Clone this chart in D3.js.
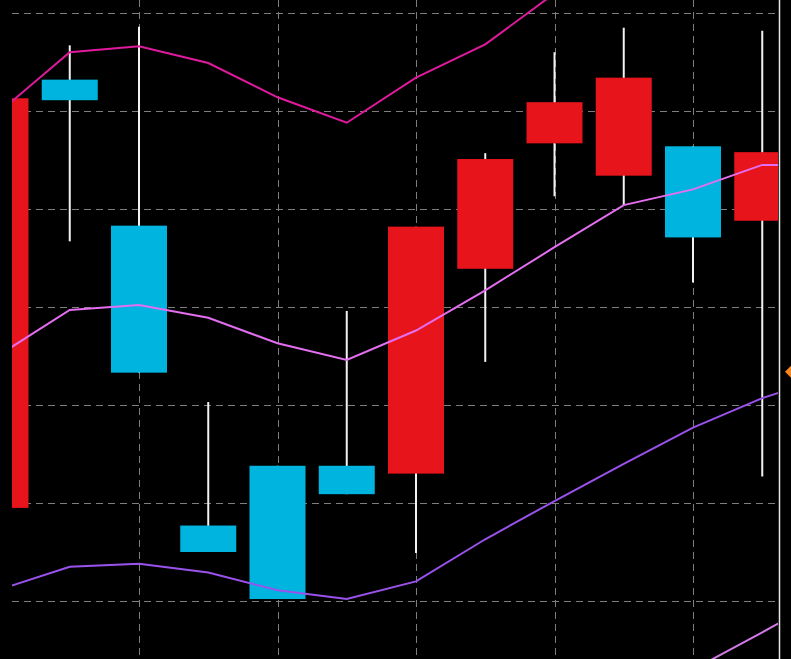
<!DOCTYPE html>
<html>
<head>
<meta charset="utf-8">
<script src="https://cdn.jsdelivr.net/npm/d3@7"></script>
<style>
  html, body { margin: 0; padding: 0; background: #000; overflow: hidden; }
</style>
</head>
<body>
<div id="content"></div>
<script>
// Candles (index 0 is clipped on the left edge)
const opens  = [19.5, 63.2, 48.3, 17.7, 23.8, 23.8, 23.0, 43.9, 56.7, 53.4, 56.4, 48.8];
const highs  = [61.3, 66.7, 68.6, 30.3, 23.8, 39.6, 48.2, 55.7, 66.0, 68.5, 56.4, 68.2];
const lows   = [19.5, 46.7, 33.3, 15.0, 10.2, 20.9, 14.9, 34.4, 51.3, 50.4, 42.5, 22.7];
const closes = [61.3, 61.1, 33.3, 15.0, 10.2, 20.9, 48.2, 55.1, 60.9, 63.4, 47.1, 55.8];

// Bands (one more point than candles, it falls past the right edge)
const upperBand  = [60.0, 66.0, 66.6, 64.9, 61.4, 58.8, 63.4, 66.8, 72.0, 75.4, 77.5, 79.0, 80.0];
const middleBand = [35.2, 39.7, 40.2, 38.9, 36.3, 34.6, 37.6, 41.7, 46.1, 50.4, 52.0, 54.5, 54.5];
const lowerBand  = [11.2, 13.5, 13.8, 12.9, 11.1, 10.2, 12.0, 16.3, 20.2, 24.0, 27.7, 30.7, 33.0];
const extraLine  = [null, null, null, null, null, null, null, null, null, null, 3.0, 6.8, 10.7];

const priceTicks = [10, 20, 30, 40, 50, 60, 70];
const timeTicks = [2, 4, 6, 8, 10];
const markerPrice = 33.4;

document.addEventListener('DOMContentLoaded', () => {
    drawSVG();
});

const drawSVG = () => {
    let width = 791;
    let height = 659;
    let left = 12;
    let right = 778;

    const x = d3.scaleLinear().domain([0, 11]).range([0.5, 762.25]);
    const y = d3.scaleLinear().domain([10, 70]).range([601, 13]);
    let candleWidth = 56;

    const svg = d3.select('#content')
                  .append('svg')
                  .attr('width', width)
                  .attr('height', height)
                  .style('display', 'block')
                  .style('background-color', '#000');

    svg.append('defs')
       .append('clipPath')
       .attr('id', 'plot')
       .append('rect')
       .attr('x', left)
       .attr('y', 0)
       .attr('width', right - left)
       .attr('height', height);

    const plot = svg.append('g').attr('clip-path', 'url(#plot)');

    // Grid
    plot.append('g')
        .selectAll('line')
        .data(priceTicks)
        .enter()
        .append('line')
        .attr('x1', left)
        .attr('x2', right)
        .attr('y1', d => Math.round(y(d)) + 0.5)
        .attr('y2', d => Math.round(y(d)) + 0.5)
        .attr('stroke', '#7e7e7e')
        .attr('stroke-width', 1)
        .attr('stroke-dasharray', '7,5');

    plot.append('g')
        .selectAll('line')
        .data(timeTicks)
        .enter()
        .append('line')
        .attr('x1', d => Math.round(x(d)) + 0.5)
        .attr('x2', d => Math.round(x(d)) + 0.5)
        .attr('y1', 0)
        .attr('y2', height)
        .attr('stroke', '#7e7e7e')
        .attr('stroke-width', 1)
        .attr('stroke-dasharray', '7,5');

    // Candles
    const candles = opens.map((o, i) => ({ i: i, o: o, h: highs[i], l: lows[i], c: closes[i] }));

    const candle = plot.append('g')
                       .selectAll('g')
                       .data(candles)
                       .enter()
                       .append('g');

    candle.append('line')
          .attr('x1', d => x(d.i))
          .attr('x2', d => x(d.i))
          .attr('y1', d => y(d.h))
          .attr('y2', d => y(d.l))
          .attr('stroke', '#f2f2f2')
          .attr('stroke-width', 2);

    candle.append('rect')
          .attr('x', d => x(d.i) - candleWidth / 2)
          .attr('y', d => y(Math.max(d.o, d.c)))
          .attr('width', candleWidth)
          .attr('height', d => Math.abs(y(d.o) - y(d.c)))
          .attr('fill', d => d.c >= d.o ? '#e8141c' : '#00b4e0');

    // Band lines
    const line = d3.line()
                   .defined(d => d !== null)
                   .x((d, i) => x(i))
                   .y(d => y(d));

    const series = [
        { values: upperBand, color: '#e01a9c' },
        { values: middleBand, color: '#e36ef0' },
        { values: lowerBand, color: '#9a52ec' },
        { values: extraLine, color: '#d27ae6' }
    ];

    plot.append('g')
        .selectAll('path')
        .data(series)
        .enter()
        .append('path')
        .attr('d', d => line(d.values))
        .attr('fill', 'none')
        .attr('stroke', d => d.color)
        .attr('stroke-width', 2);

    // Right border
    svg.append('line')
       .attr('x1', right + 1.5)
       .attr('x2', right + 1.5)
       .attr('y1', 0)
       .attr('y2', height)
       .attr('stroke', '#e6e6e6')
       .attr('stroke-width', 1.5);

    // Price marker
    let my = y(markerPrice);
    svg.append('path')
       .attr('d', `M785,${my} L792,${my - 7} L799,${my} L792,${my + 7} Z`)
       .attr('fill', '#f5871f');
}
</script>
</body>
</html>
